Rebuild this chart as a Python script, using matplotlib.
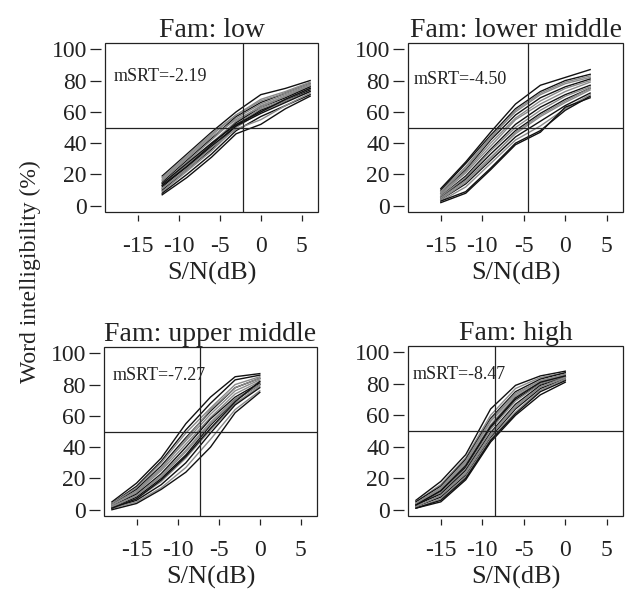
import numpy as np
import matplotlib
matplotlib.use("Agg")
import matplotlib.pyplot as plt
from matplotlib.patches import Rectangle

plt.rcParams['font.family'] = ['Liberation Serif', 'DejaVu Serif']

# S/N points (dB) for each familiarity group
snr_low = [-12, -9, -6, -3, 0, 3, 6]
snr_lowmid = [-15, -12, -9, -6, -3, 0, 3]
snr_upmid = [-18, -15, -12, -9, -6, -3, 0]
snr_high = [-18, -15, -12, -9, -6, -3, 0]

# word intelligibility (%) per word
wi_low = [
    [19, 33, 47, 60, 71, 75, 80],
    [17, 31, 45, 58, 68, 73, 79],
    [15, 29, 43, 57, 66, 72, 78],
    [14, 28, 42, 56, 65, 71, 77],
    [13, 26, 40, 54, 64, 70, 76],
    [12, 25, 39, 53, 63, 69, 76],
    [11, 24, 37, 52, 62, 68, 75],
    [10, 23, 36, 51, 61, 67, 74],
    [9, 22, 35, 50, 60, 67, 73],
    [8, 20, 33, 48, 57, 64, 71],
    [7, 18, 31, 46, 52, 62, 70],
    [16, 30, 44, 55, 63, 70, 77],
    [13, 25, 38, 51, 59, 66, 73],
    [11, 23, 37, 49, 55, 64, 72],
    [18, 32, 46, 58, 67, 72, 78],
    [14, 27, 40, 52, 60, 68, 75],
]
wi_lowmid = [
    [11, 28, 47, 65, 77, 82, 87],
    [10, 27, 45, 62, 73, 80, 84],
    [9, 25, 44, 60, 71, 78, 82],
    [8, 23, 42, 58, 69, 76, 81],
    [8, 22, 40, 56, 67, 75, 80],
    [7, 21, 38, 55, 65, 73, 79],
    [6, 19, 36, 52, 63, 71, 77],
    [6, 18, 35, 50, 61, 70, 76],
    [5, 17, 33, 48, 59, 68, 75],
    [5, 16, 31, 46, 57, 66, 74],
    [4, 14, 29, 44, 54, 64, 72],
    [3, 12, 27, 42, 51, 62, 71],
    [3, 9, 24, 40, 48, 61, 70],
    [2, 8, 23, 39, 47, 63, 69],
    [9, 24, 43, 61, 72, 79, 83],
    [4, 15, 30, 47, 58, 67, 75],
]
wi_upmid = [
    [5, 17, 33, 55, 72, 85, 87],
    [4, 15, 31, 51, 68, 83, 86],
    [4, 14, 30, 49, 65, 80, 85],
    [3, 13, 28, 46, 63, 78, 84],
    [3, 12, 27, 44, 61, 76, 83],
    [2, 11, 25, 42, 59, 74, 82],
    [2, 10, 23, 40, 58, 72, 81],
    [2, 9, 22, 38, 56, 71, 80],
    [1, 8, 20, 35, 54, 70, 80],
    [1, 7, 18, 33, 51, 68, 79],
    [1, 6, 16, 30, 49, 67, 78],
    [1, 5, 14, 27, 45, 64, 76],
    [0, 4, 13, 24, 40, 62, 75],
    [3, 12, 26, 45, 64, 78, 84],
    [2, 9, 21, 37, 55, 70, 80],
    [1, 7, 19, 34, 52, 69, 82],
]
wi_high = [
    [6, 18, 35, 64, 79, 85, 88],
    [5, 16, 33, 60, 77, 84, 87],
    [5, 15, 32, 58, 75, 83, 87],
    [4, 14, 30, 56, 73, 82, 86],
    [4, 13, 29, 54, 72, 81, 86],
    [3, 12, 27, 52, 70, 80, 85],
    [3, 11, 26, 51, 69, 80, 85],
    [3, 10, 25, 49, 67, 79, 84],
    [2, 9, 24, 48, 66, 78, 84],
    [2, 8, 22, 46, 64, 77, 83],
    [1, 7, 21, 45, 62, 76, 83],
    [1, 6, 20, 44, 61, 75, 82],
    [1, 5, 19, 43, 60, 73, 81],
    [4, 14, 31, 57, 74, 82, 86],
    [2, 9, 23, 47, 65, 78, 84],
    [3, 12, 28, 53, 71, 81, 85],
]
# which words are drawn in grey
grey_low = [1, 3, 4, 6, 8, 11, 13, 14]
grey_lowmid = [2, 4, 5, 7, 9, 11, 14, 15]
grey_upmid = [2, 4, 5, 7, 9, 11, 13, 14]
grey_high = [1, 3, 4, 6, 8, 10, 13, 14]

titles = ["Fam: low", "Fam: lower middle", "Fam: upper middle", "Fam: high"]
msrt = [-2.19, -4.50, -7.27, -8.47]
xticks = [-15, -10, -5, 0, 5]
yticks = [0, 20, 40, 60, 80, 100]

panels = [
    (snr_low, wi_low, grey_low),
    (snr_lowmid, wi_lowmid, grey_lowmid),
    (snr_upmid, wi_upmid, grey_upmid),
    (snr_high, wi_high, grey_high),
]

W, H = 634, 590
fig = plt.figure(figsize=(W / 100, H / 100), dpi=100)

# box positions in pixels: left, top, width, height
boxes = [(105, 43, 213, 169), (408, 43, 215, 169),
         (104, 347, 213, 169), (408, 346, 215, 170)]
label_pos = [(0.04, 0.80), (0.025, 0.785), (0.04, 0.83), (0.02, 0.83)]

ink = '#222222'
for i, (snr, wi, grey) in enumerate(panels):
    l, t, w, h = boxes[i]
    ax = fig.add_axes([l / W, 1 - (t + h) / H, w / W, h / H])
    for j, curve in enumerate(wi):
        c = '#8a8a8a' if j in grey else '#111111'
        ax.plot(snr, curve, color=c, lw=1.0)
    ax.axhline(50, color=ink, lw=0.9)
    ax.axvline(msrt[i], color=ink, lw=0.9)
    ax.text(label_pos[i][0], label_pos[i][1], "mSRT=%.2f" % msrt[i],
            transform=ax.transAxes, fontsize=13, color=ink, va='center')
    ax.set_xlim(-18.96, 6.96)
    ax.set_ylim(-4, 104)
    ax.set_xticks(xticks)
    ax.set_xticklabels([str(v) for v in xticks])
    ax.set_yticks(yticks)
    # box drawn by hand, axes lines pushed a bit outside (R style)
    for s in ax.spines.values():
        s.set_visible(False)
    ax.add_patch(Rectangle((0, 0), 1, 1, transform=ax.transAxes, fill=False,
                           ec=ink, lw=0.9, clip_on=False))
    ax.spines['bottom'].set_position(('outward', 2))
    ax.spines['left'].set_position(('outward', 3))
    ax.tick_params(axis='x', direction='out', length=4.5, width=0.9,
                   pad=11, labelsize=17, colors=ink)
    ax.tick_params(axis='y', direction='out', length=8, width=0.9,
                   pad=2, labelsize=17, colors=ink)
    ax.set_xlabel("S/N(dB)", fontsize=19, color=ink, labelpad=3)
    ax.set_title(titles[i], fontsize=20, color=ink, pad=4)

fig.text(30 / W, 1 - 272 / H, "Word intelligibility (%)", rotation=90,
         fontsize=17, color=ink, ha='center', va='center')

fig.savefig("out.png", dpi=100, facecolor='white')
